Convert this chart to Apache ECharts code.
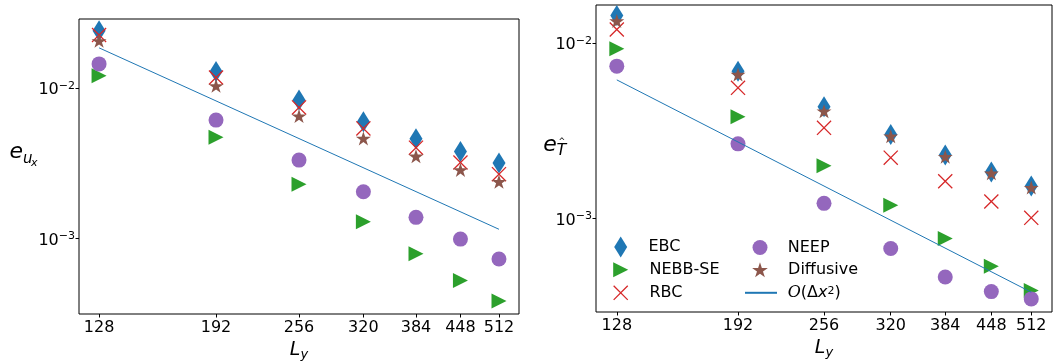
<!DOCTYPE html>
<html>
<head>
<meta charset="utf-8">
<script src="https://cdn.jsdelivr.net/npm/echarts@6/dist/echarts.min.js"></script>
<style>
  html, body { margin: 0; padding: 0; background: #fff; }
  #chart { width: 1057px; height: 361px; }
</style>
</head>
<body>
<div id="chart"></div>
<script>
const lyValues = [128, 192, 256, 320, 384, 448, 512];

// left panel, e_ux
const ebcUx = [2.39e-2, 1.28e-2, 8.29e-3, 5.95e-3, 4.58e-3, 3.78e-3, 3.17e-3];
const nebbUx = [1.20e-2, 4.69e-3, 2.29e-3, 1.29e-3, 7.9e-4, 5.25e-4, 3.84e-4];
const rbcUx = [2.24e-2, 1.17e-2, 7.4e-3, 5.37e-3, 4.0e-3, 3.19e-3, 2.67e-3];
const neepUx = [1.44e-2, 6.10e-3, 3.31e-3, 2.04e-3, 1.38e-3, 9.9e-4, 7.3e-4];
const diffUx = [2.05e-2, 1.03e-2, 6.49e-3, 4.61e-3, 3.51e-3, 2.85e-3, 2.38e-3];
const orderUx = [[128, 1.84e-2], [512, 1.15e-3]];

// right panel, e_T
const ebcT = [1.43e-2, 6.89e-3, 4.32e-3, 3.01e-3, 2.30e-3, 1.84e-3, 1.53e-3];
const nebbT = [9.24e-3, 3.79e-3, 2.0e-3, 1.19e-3, 7.71e-4, 5.35e-4, 3.9e-4];
const rbcT = [1.19e-2, 5.54e-3, 3.28e-3, 2.22e-3, 1.63e-3, 1.25e-3, 1.01e-3];
const neepT = [7.36e-3, 2.66e-3, 1.22e-3, 6.76e-4, 4.65e-4, 3.84e-4, 3.49e-4];
const diffT = [1.33e-2, 6.6e-3, 4.08e-3, 2.94e-3, 2.25e-3, 1.81e-3, 1.50e-3];
const orderT = [[128, 6.15e-3], [512, 3.81e-4]];

const yTicks = [1e-3, 1e-2];

const FONT = 'DejaVu Sans';
const DIAMOND = 'path://M6.5,0L13,10.5L6.5,21L0,10.5Z';
const TRI_RIGHT = 'path://M0,0L15,7.5L0,15Z';
const STAR = 'path://M10,0L12.245,6.91L19.511,6.91L13.633,11.18L15.878,18.09L10,13.82L4.122,18.09L6.367,11.18L0.489,6.91L7.755,6.91Z';
const CROSS = 'path://M0,0.6L0.6,0L10,9.4L9.4,10ZM10,0.6L0.6,10L0,9.4L9.4,0Z';

const markers = [
  { name: 'EBC', symbol: DIAMOND, size: [13, 21], color: '#1f77b4' },
  { name: 'NEBB-SE', symbol: TRI_RIGHT, size: [15, 15], color: '#2ca02c' },
  { name: 'RBC', symbol: CROSS, size: [15, 15], color: '#d62728' },
  { name: 'NEEP', symbol: 'circle', size: 15, color: '#9467bd' },
  { name: 'Diffusive', symbol: STAR, size: [15, 14], color: '#8c564b' }
];
const LINE_NAME = 'O(Δx^2)';

function scatterSeries(m, values, idx) {
  return {
    name: m.name,
    type: 'scatter',
    xAxisIndex: idx,
    yAxisIndex: idx,
    symbol: m.symbol,
    symbolSize: m.size,
    itemStyle: { color: m.color, opacity: 1 },
    data: lyValues.map((x, i) => [x, values[i]])
  };
}

function lineSeries(points, idx) {
  return {
    name: LINE_NAME,
    type: 'line',
    xAxisIndex: idx,
    yAxisIndex: idx,
    symbol: 'none',
    lineStyle: { color: '#1f77b4', width: 1 },
    itemStyle: { color: '#1f77b4' },
    data: points
  };
}

const tickText = { color: '#000', fontFamily: FONT, fontSize: 16 };

function xAxis(idx) {
  return {
    type: 'log',
    gridIndex: idx,
    min: 119.4,
    max: 548.8,
    name: '{L|L}{y|y}',
    nameLocation: 'middle',
    nameGap: 23,
    nameTextStyle: {
      rich: {
        L: { fontFamily: FONT, fontStyle: 'italic', fontSize: 19, color: '#000', lineHeight: 22 },
        y: { fontFamily: FONT, fontStyle: 'italic', fontSize: 13, color: '#000', verticalAlign: 'bottom', lineHeight: 16 }
      }
    },
    axisLine: { show: false },
    splitLine: { show: false },
    minorTick: { show: false },
    axisTick: { show: true, length: 3.5, lineStyle: { color: '#000' }, customValues: lyValues },
    axisLabel: Object.assign({ margin: 5.5, customValues: lyValues, formatter: v => String(Math.round(v)) }, tickText)
  };
}

function yAxis(idx, min, max) {
  return {
    type: 'log',
    gridIndex: idx,
    min: min,
    max: max,
    axisLine: { show: false },
    splitLine: { show: false },
    minorTick: { show: false },
    axisTick: { show: true, length: 3.5, lineStyle: { color: '#000' }, customValues: yTicks },
    axisLabel: {
      margin: 4,
      padding: [5, 0, 0, 0],
      customValues: yTicks,
      formatter: v => '{b|10}{s|−' + Math.round(-Math.log10(v)) + '}',
      rich: {
        b: { fontFamily: FONT, fontSize: 16, color: '#000', lineHeight: 20 },
        s: { fontFamily: FONT, fontSize: 11, color: '#000', verticalAlign: 'top', lineHeight: 11 }
      }
    }
  };
}

// one legend per entry so each icon keeps its own marker size
const legendSlots = [
  { name: 'EBC', left: 614.2, top: 236.5, h: 21, pad: 6.8 },
  { name: 'NEBB-SE', left: 613.2, top: 261.8, h: 15, pad: 7.8 },
  { name: 'RBC', left: 613.2, top: 284.8, h: 15, pad: 7.8 },
  { name: 'NEEP', left: 752.5, top: 239.5, h: 15, pad: 6.7 },
  { name: 'Diffusive', left: 752.1, top: 261.8, h: 15, pad: 7.1 },
  { name: LINE_NAME, left: 744, top: 284.8, h: 15, pad: 5.7 }
];
const legends = legendSlots.map(s => {
  const lg = {
    data: [s.name],
    left: s.left,
    top: s.top,
    padding: 0,
    itemWidth: 32,
    itemHeight: s.h,
    selectedMode: false,
    textStyle: { fontFamily: FONT, fontSize: 16, color: '#000', lineHeight: 14, padding: [0, 0, 0, s.pad] }
  };
  if (s.name === LINE_NAME) {
    // hide the dot that echarts puts on line legend icons
    lg.itemStyle = { color: 'transparent', borderWidth: 0 };
    lg.textStyle = {
      padding: [0, 0, 0, s.pad],
      rich: {
        c: { fontFamily: 'DejaVu Serif', fontStyle: 'italic', fontSize: 16, color: '#000', lineHeight: 14 },
        n: { fontFamily: FONT, fontSize: 16, color: '#000', lineHeight: 14 },
        i: { fontFamily: FONT, fontStyle: 'italic', fontSize: 16, color: '#000', lineHeight: 14 },
        s: { fontFamily: FONT, fontSize: 11, color: '#000', verticalAlign: 'top', lineHeight: 10 }
      }
    };
    lg.formatter = () => '{c|O}{n|(Δ}{i|x}{s|2}{n|)}';
  }
  return lg;
});

const labelText = (text, x, y, size, style) => ({
  type: 'text',
  style: { text: text, x: x, y: y, fill: '#000', align: 'center', verticalAlign: 'middle',
    font: (style || 'italic') + ' ' + size + 'px "' + FONT + '"' }
});

const gridBase = { show: true, borderColor: '#000', borderWidth: 1, backgroundColor: 'transparent', outerBoundsMode: 'none' };

const option = {
  animation: false,
  backgroundColor: '#fff',
  grid: [
    Object.assign({ left: 79, top: 19, width: 440, height: 295 }, gridBase),
    Object.assign({ left: 596, top: 5, width: 456, height: 307 }, gridBase)
  ],
  xAxis: [xAxis(0), xAxis(1)],
  yAxis: [yAxis(0, 3.15e-4, 2.86e-2), yAxis(1, 2.94e-4, 1.64e-2)],
  legend: legends,
  graphic: [
    labelText('e', 16.3, 152, 22),
    labelText('u', 27.8, 159, 15),
    labelText('x', 34.2, 163.5, 11),
    labelText('e', 550, 145, 22),
    labelText('T', 561.3, 151, 16),
    labelText('^', 561.8, 142, 8, 'normal')
  ],
  series: [
    scatterSeries(markers[0], ebcUx, 0),
    scatterSeries(markers[1], nebbUx, 0),
    scatterSeries(markers[2], rbcUx, 0),
    scatterSeries(markers[3], neepUx, 0),
    scatterSeries(markers[4], diffUx, 0),
    lineSeries(orderUx, 0),
    scatterSeries(markers[0], ebcT, 1),
    scatterSeries(markers[1], nebbT, 1),
    scatterSeries(markers[2], rbcT, 1),
    scatterSeries(markers[3], neepT, 1),
    scatterSeries(markers[4], diffT, 1),
    lineSeries(orderT, 1)
  ]
};

const chart = echarts.init(document.getElementById('chart'));
chart.setOption(option);
</script>
</body>
</html>
